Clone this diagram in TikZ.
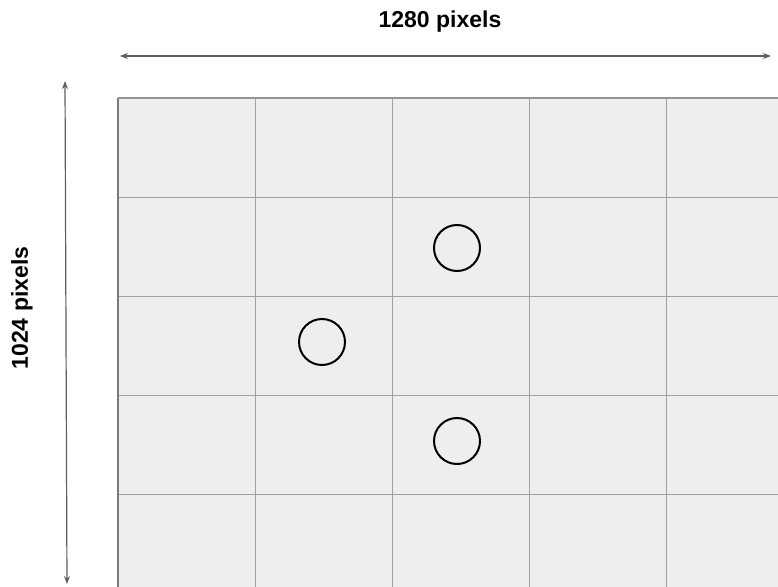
\documentclass[tikz,border=0pt]{standalone}
\usepackage{fontspec}
\setmainfont{Liberation Sans}
\usetikzlibrary{arrows.meta}
\definecolor{cellfill}{HTML}{EEEEEE}
\definecolor{gridline}{HTML}{A0A0A0}
\definecolor{border}{HTML}{7A7A7A}
\definecolor{dimline}{HTML}{5E5E5E}
\tikzset{
  cell/.style={draw=gridline, line width=1.2pt, fill=cellfill, minimum width=137pt, minimum height=99pt, inner sep=0pt, anchor=north west},
  dot/.style={circle, draw=black, line width=2pt, minimum size=46pt, inner sep=0pt},
  dimarrow/.style={draw=dimline, line width=1.2pt, {Stealth[length=8pt,width=6pt]}-{Stealth[length=8pt,width=6pt]}},
  dimlabel/.style={font=\bfseries\fontsize{23}{27}\selectfont, inner sep=0pt}
}
\begin{document}
\begin{tikzpicture}[x=1pt,y=-1pt]
\useasboundingbox[fill=white] (0,0) rectangle (778,586);
\begin{scope}
\clip (0,0) rectangle (778,586);
\foreach \i in {0,...,4} {
  \foreach \j in {0,...,4} {
    \node[cell] (c\i\j) at (118+137*\i, 98+99*\j) {};
  }
}
\draw[border, line width=2pt] (118,98) -- (118,590);
\draw[border!80, line width=1.4pt] (118,98) -- (790,98);
\end{scope}
\node[dot] (o1) at (457,248) {};
\node[dot] (o2) at (322,342) {};
\node[dot] (o3) at (457,441) {};
\coordinate (hl) at (120,56);
\coordinate (hr) at (771,56);
\coordinate (vt) at (65,81);
\coordinate (vb) at (67,584);
\draw[dimarrow] (hl) -- (hr);
\draw[dimarrow] (vt) -- (vb);
\node[dimlabel] (wlabel) at (440,22) {1280 pixels};
\node[dimlabel, rotate=90] (hlabel) at (22,308) {1024 pixels};
\end{tikzpicture}
\end{document}
